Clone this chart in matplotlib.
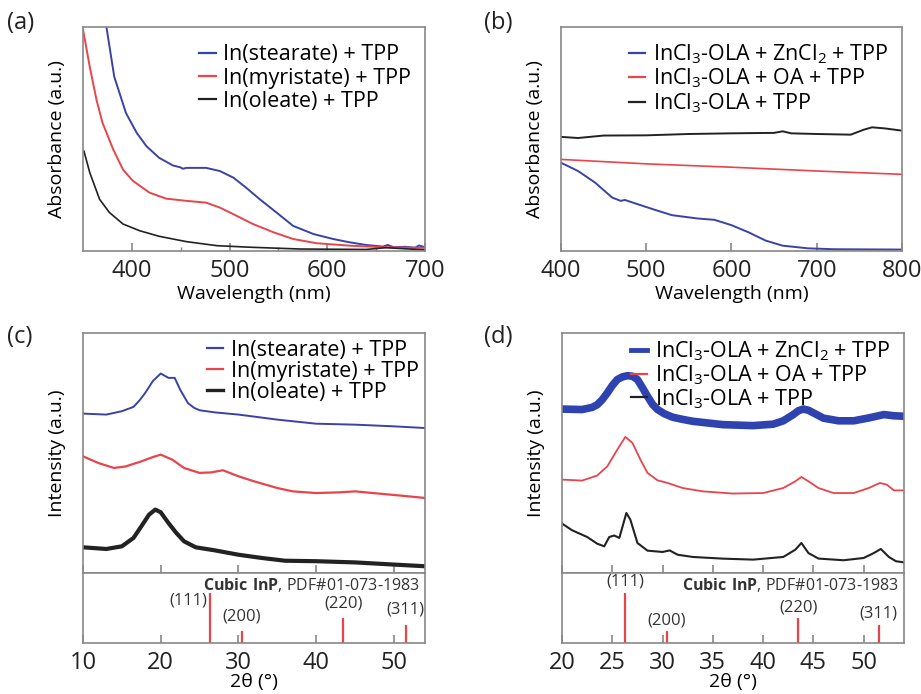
import numpy as np
import matplotlib
matplotlib.use('Agg')
import matplotlib.pyplot as plt

plt.rcParams['font.family'] = ['Open Sans', 'DejaVu Sans']
plt.rcParams['mathtext.fontset'] = 'custom'
plt.rcParams['mathtext.rm'] = 'Open Sans'
plt.rcParams['mathtext.bf'] = 'Open Sans:bold'
plt.rcParams['mathtext.default'] = 'rm'

BLUE = '#3a42a6'
RED = '#e8444c'
BLACK = '#222222'
FRAME = '#888888'

# ---- (a) absorbance, indium carboxylates ----
a_labels = ['In(stearate) + TPP', 'In(myristate) + TPP', 'In(oleate) + TPP']
a_wl_st = [374, 382, 394, 405, 415, 428, 442, 450, 452, 456, 476, 490, 504, 517, 531, 548,
           565, 586, 606, 623, 640, 657, 662, 668, 680, 690, 694, 700]
a_ab_st = [1.0, 0.777, 0.614, 0.525, 0.465, 0.413, 0.379, 0.370, 0.364, 0.368, 0.368, 0.354,
           0.324, 0.279, 0.227, 0.168, 0.108, 0.071, 0.049, 0.034, 0.022, 0.015, 0.022,
           0.012, 0.014, 0.010, 0.020, 0.012]
a_wl_my = [350, 357, 364, 370, 381, 391, 401, 418, 435, 456, 476, 490, 504, 524, 545, 565,
           589, 623, 657, 700]
a_ab_my = [0.99, 0.82, 0.67, 0.57, 0.45, 0.36, 0.31, 0.257, 0.23, 0.22, 0.212, 0.19, 0.16,
           0.116, 0.079, 0.049, 0.030, 0.019, 0.012, 0.009]
a_wl_ol = [351, 357, 367, 377, 391, 408, 428, 456, 487, 521, 572, 640, 660, 700]
a_ab_ol = [0.443, 0.346, 0.227, 0.168, 0.116, 0.086, 0.061, 0.037, 0.019, 0.012, 0.004,
           0.002, 0.010, 0.0]

# ---- (b) absorbance, InCl3-OLA precursors ----
b_labels = ['InCl$_3$-OLA + ZnCl$_2$ + TPP', 'InCl$_3$-OLA + OA + TPP', 'InCl$_3$-OLA + TPP']
b_wl_zn = [400, 420, 440, 460, 470, 475, 490, 510, 530, 560, 580, 600, 620, 640, 660, 690,
           720, 800]
b_ab_zn = [0.391, 0.354, 0.302, 0.235, 0.22, 0.224, 0.205, 0.180, 0.156, 0.141, 0.135, 0.111,
           0.079, 0.042, 0.019, 0.007, 0.003, 0.0015]
b_wl_oa = [400, 500, 600, 700, 800]
b_ab_oa = [0.406, 0.386, 0.371, 0.354, 0.339]
b_wl_ol = [400, 420, 450, 500, 550, 600, 650, 660, 670, 700, 740, 755, 765, 780, 800]
b_ab_ol = [0.507, 0.502, 0.513, 0.514, 0.520, 0.523, 0.525, 0.532, 0.523, 0.520, 0.517,
           0.539, 0.550, 0.545, 0.535]

# ---- (c) XRD, indium carboxylates ----
c_tt_st = [10, 13, 15, 16.5, 17.3, 18, 19, 20, 21, 21.8, 22.5, 23.5, 24.3, 25, 27, 30, 35,
           40, 45, 50, 54]
c_in_st = [0.664, 0.660, 0.674, 0.692, 0.72, 0.75, 0.80, 0.831, 0.813, 0.813, 0.764, 0.708,
           0.688, 0.678, 0.669, 0.660, 0.639, 0.622, 0.618, 0.611, 0.604]
c_tt_my = [10, 12, 14, 15.5, 17.5, 19, 20, 21.5, 23, 25, 26.5, 28, 30, 32, 35, 37, 40, 43,
           45, 48, 51, 54]
c_in_my = [0.486, 0.458, 0.4375, 0.444, 0.465, 0.483, 0.493, 0.472, 0.4375, 0.417, 0.419,
           0.428, 0.403, 0.382, 0.354, 0.340, 0.333, 0.336, 0.340, 0.331, 0.322, 0.3125]
c_tt_ol = [10, 13, 15, 16.5, 17.5, 18.5, 19.3, 20, 21, 22, 23, 24.5, 27, 30, 33, 36, 40, 45,
           50, 54]
c_in_ol = [0.107, 0.10, 0.111, 0.146, 0.194, 0.243, 0.264, 0.253, 0.208, 0.167, 0.132, 0.107,
           0.094, 0.076, 0.0625, 0.051, 0.049, 0.044, 0.035, 0.028]

# ---- (d) XRD, InCl3-OLA precursors ----
d_tt_zn = [20, 22, 23, 23.5, 24, 24.5, 25, 25.5, 26, 26.5, 27, 27.5, 28, 28.5, 29, 29.5,
           30.2, 31, 32, 33, 36, 39, 41, 42, 43, 43.5, 44, 44.5, 45, 46, 47.5, 49, 50.5, 52,
           53, 54]
d_in_zn = [0.683, 0.681, 0.690, 0.701, 0.722, 0.75, 0.781, 0.806, 0.817, 0.822, 0.820, 0.806,
           0.772, 0.736, 0.703, 0.681, 0.663, 0.649, 0.640, 0.632, 0.618, 0.614, 0.620, 0.634,
           0.660, 0.676, 0.683, 0.678, 0.667, 0.645, 0.634, 0.634, 0.646, 0.660, 0.655, 0.653]
d_tt_oa = [20, 22, 23.5, 24.5, 25.5, 26.3, 27, 27.8, 28.5, 29.5, 30.5, 32, 34, 37, 40, 42,
           43.2, 43.8, 44.5, 45.5, 47, 49, 50.5, 51.6, 52.3, 53, 54]
d_in_oa = [0.389, 0.385, 0.406, 0.444, 0.514, 0.567, 0.542, 0.472, 0.417, 0.386, 0.375, 0.354,
           0.340, 0.331, 0.333, 0.354, 0.382, 0.400, 0.382, 0.354, 0.333, 0.333, 0.354, 0.375,
           0.368, 0.344, 0.344]
d_tt_ol = [20, 21, 22.5, 23.5, 24.2, 24.7, 25.2, 25.7, 26.4, 26.8, 27.5, 28.5, 30, 30.7,
           31.5, 33, 36, 39, 42, 43.2, 43.8, 44.5, 45.5, 48, 50, 51, 51.7, 52.5, 53.2, 54]
d_in_ol = [0.206, 0.178, 0.15, 0.122, 0.111, 0.15, 0.156, 0.146, 0.25, 0.222, 0.125, 0.093,
           0.0875, 0.094, 0.076, 0.0667, 0.0597, 0.0556, 0.0667, 0.097, 0.125, 0.083, 0.060,
           0.053, 0.0625, 0.083, 0.100, 0.0667, 0.049, 0.044]

# reference pattern, cubic InP (PDF#01-073-1983)
ref_tt = [26.3, 30.4, 43.5, 51.5]
ref_int = [0.72, 0.17, 0.35, 0.26]
ref_hkl = ['(111)', '(200)', '(220)', '(311)']

fig = plt.figure(figsize=(9.21, 6.94), dpi=100)


def style_frame(ax):
    for s in ax.spines.values():
        s.set_color(FRAME)
        s.set_linewidth(1.2)
    ax.set_yticks([])
    ax.tick_params(axis='x', direction='in', length=6, width=1.2, color=FRAME,
                   labelsize=17, pad=6, labelcolor='#222222')
    ax.tick_params(axis='x', which='minor', direction='in', length=3, width=1.0, color=FRAME)


def legend(ax, lws=(1.6, 1.6, 1.6), anchor=(1.0, 1.0), spacing=0.0):
    leg = ax.legend(loc='upper right', bbox_to_anchor=anchor, frameon=False, fontsize=15.5,
                    handlelength=0.75, handletextpad=0.35, labelspacing=spacing,
                    borderaxespad=0.25)
    for h, lw in zip(leg.get_lines(), lws):
        h.set_linewidth(lw)


# (a)
axa = fig.add_axes([0.0901, 0.6383, 0.3713, 0.3228])
axa.plot(a_wl_st, a_ab_st, color=BLUE, lw=1.4, label=a_labels[0])
axa.plot(a_wl_my, a_ab_my, color=RED, lw=1.4, label=a_labels[1])
axa.plot(a_wl_ol, a_ab_ol, color=BLACK, lw=1.2, label=a_labels[2])
axa.set_xlim(350, 700)
axa.set_ylim(-0.005, 1.0)
axa.set_xticks([400, 500, 600, 700])
axa.set_xticks([450, 550, 650], minor=True)
style_frame(axa)
axa.set_xlabel('Wavelength (nm)', fontsize=14, labelpad=1)
axa.set_ylabel('Absorbance (a.u.)', fontsize=14, labelpad=12)
legend(axa, anchor=(1.0, 0.985), spacing=0.1)

# (b)
axb = fig.add_axes([0.6091, 0.6383, 0.3702, 0.3228])
axb.plot(b_wl_zn, b_ab_zn, color=BLUE, lw=1.4, label=b_labels[0])
axb.plot(b_wl_oa, b_ab_oa, color=RED, lw=1.2, label=b_labels[1])
axb.plot(b_wl_ol, b_ab_ol, color=BLACK, lw=1.4, label=b_labels[2])
axb.set_xlim(400, 800)
axb.set_ylim(-0.005, 1.0)
axb.set_xticks([400, 500, 600, 700, 800])
style_frame(axb)
axb.set_xlabel('Wavelength (nm)', fontsize=14, labelpad=1)
axb.set_ylabel('Absorbance (a.u.)', fontsize=14, labelpad=12)
legend(axb, anchor=(1.0, 0.995), spacing=0.05)


def xrd_panel(left, xlim, major, series, labels, lws):
    ax = fig.add_axes([left, 0.1744, 0.3713, 0.3458])
    ref = fig.add_axes([left, 0.0735, 0.3713, 0.1009], sharex=ax)
    for (tt, inten, col), lab, lw in zip(series, labels, lws):
        ax.plot(tt, inten, color=col, lw=lw, label=lab, solid_joinstyle='round')
    ax.set_xlim(*xlim)
    ax.set_ylim(0, 1)
    ax.set_xticks(major)
    style_frame(ax)
    ax.tick_params(axis='x', labelbottom=False)
    ref.vlines(ref_tt, 0, ref_int, color=RED, lw=1.6)
    ref.set_ylim(0, 1)
    style_frame(ref)
    ref.set_xlabel('2θ (°)', fontsize=14, labelpad=-2)
    ref.text(0.985, 0.95, r'$\mathbf{Cubic\ InP}$, PDF#01-073-1983', transform=ref.transAxes,
             ha='right', va='top', fontsize=11.5, color='#333333')
    return ax, ref


# (c)
axc, refc = xrd_panel(0.0901, (10, 54), [10, 20, 30, 40, 50],
                      [(c_tt_st, c_in_st, BLUE), (c_tt_my, c_in_my, RED), (c_tt_ol, c_in_ol, BLACK)],
                      a_labels, [1.4, 1.6, 3.0])
axc.set_ylabel('Intensity (a.u.)', fontsize=14, labelpad=12)
legend(axc, (1.6, 1.6, 2.4), anchor=(1.022, 1.03))
refc.text(ref_tt[0] - 0.3, 0.6, ref_hkl[0], ha='right', va='center', fontsize=12, color='#333333')
for t, h, s in zip(ref_tt[1:], ref_int[1:], ref_hkl[1:]):
    refc.text(t, h + 0.1, s, ha='center', va='bottom', fontsize=12, color='#333333')

# (d)
axd, refd = xrd_panel(0.6102, (20, 54), [20, 25, 30, 35, 40, 45, 50],
                      [(d_tt_zn, d_in_zn, '#2f43b0'), (d_tt_oa, d_in_oa, RED), (d_tt_ol, d_in_ol, BLACK)],
                      b_labels, [5.5, 1.3, 1.5])
axd.set_ylabel('Intensity (a.u.)', fontsize=14, labelpad=12)
legend(axd, (3.5, 1.6, 1.6), anchor=(1.0, 1.03))
for t, h, s in zip(ref_tt, ref_int, ref_hkl):
    refd.text(t, h + 0.04, s, ha='center', va='bottom', fontsize=12, color='#333333')

# panel letters
for x, y, s in [(0.008, 0.967, '(a)'), (0.525, 0.967, '(b)'),
                (0.008, 0.515, '(c)'), (0.525, 0.515, '(d)')]:
    fig.text(x, y, s, fontsize=17, color='#222222', va='center')

fig.savefig('out.png', dpi=100)
